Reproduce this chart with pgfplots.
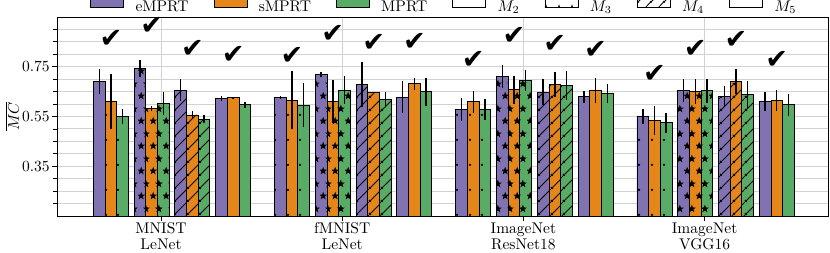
\documentclass[border=0pt]{standalone}
\usepackage{fontspec}
\usepackage{pgfplots}
\pgfplotsset{compat=1.18}
\usetikzlibrary{patterns.meta}
\newfontfamily\checkfont{DejaVu Sans}
\definecolor{cE}{HTML}{8172B2}
\definecolor{cS}{HTML}{E5861B}
\definecolor{cM}{HTML}{59AC65}
\definecolor{gridc}{HTML}{D2D2D2}

% 1 px of the reference = 0.6452pt here (fonts stay at 10pt)
\tikzdeclarepattern{
  name=mpldots,
  type=uncolored,
  bounding box={(0pt,0pt) and (8.065pt,16.13pt)},
  tile size={(8.065pt,16.13pt)},
  code={
    \fill (4.03pt,8.065pt) circle (0.87pt);
  }
}
\tikzdeclarepattern{
  name=mplstars,
  type=uncolored,
  bounding box={(0pt,0pt) and (8.065pt,16.13pt)},
  tile size={(8.065pt,16.13pt)},
  code={
    \fill[shift={(2.13pt,4.03pt)}] (90:2.8pt) -- (126:1.13pt) -- (162:2.8pt) -- (198:1.13pt) -- (234:2.8pt) -- (270:1.13pt) -- (306:2.8pt) -- (342:1.13pt) -- (18:2.8pt) -- (54:1.13pt) -- cycle;
    \fill[shift={(5.94pt,12.1pt)}] (90:2.8pt) -- (126:1.13pt) -- (162:2.8pt) -- (198:1.13pt) -- (234:2.8pt) -- (270:1.13pt) -- (306:2.8pt) -- (342:1.13pt) -- (18:2.8pt) -- (54:1.13pt) -- cycle;
  }
}
\tikzdeclarepattern{
  name=mpllines,
  type=uncolored,
  bounding box={(0pt,0pt) and (8.065pt,8.065pt)},
  tile size={(8.065pt,8.065pt)},
  code={
    \draw[line width=0.52pt] (-0.7pt,-0.7pt) -- (8.765pt,8.765pt);
    \draw[line width=0.52pt] (-0.7pt,7.365pt) -- (0.7pt,8.765pt);
    \draw[line width=0.52pt] (7.365pt,-0.7pt) -- (8.765pt,0.7pt);
  }
}

\pgfplotsset{
  mybar/.style={ybar, bar width=0.0644, bar shift=0pt, draw=black, line width=0.58pt,
    error bars/y dir=both, error bars/y explicit, error bars/error mark=none,
    error bars/error bar style={line width=0.9pt, black}},
  legbox/.style={legend image code/.code={\draw[line width=0.52pt, #1] (0pt,0pt) rectangle (21.3pt,7.55pt);}},
}

\begin{document}
\begin{tikzpicture}
\useasboundingbox (-36.77pt,-23.23pt) rectangle (498.7pt,139.35pt);
\begin{axis}[
  at={(0pt,0pt)}, anchor=south west,
  scale only axis, width=497.4pt, height=128.4pt,
  xmin=-0.574, xmax=3.681, ymin=0.15, ymax=0.95,
  xtick={0,1,2,3},
  xticklabels={{MNIST\\[-1.6pt]LeNet},{fMNIST\\[-1.6pt]LeNet},{ImageNet\\[-1.6pt]ResNet18},{ImageNet\\[-1.6pt]VGG16}},
  xticklabel style={align=center, inner sep=0pt, anchor=north, yshift=-1.0pt},
  ytick={0.35,0.55,0.75},
  minor ytick={0.2,0.25,0.3,0.4,0.45,0.5,0.6,0.65,0.7,0.8,0.85,0.9},
  yticklabel style={inner sep=0pt, anchor=east, xshift=-1.3pt, /pgf/number format/.cd, fixed, fixed zerofill, precision=2},
  ymajorgrids, yminorgrids, xmajorgrids,
  grid style={line width=0.58pt, draw=gridc},
  minor grid style={line width=0.58pt, draw=gridc},
  tick align=outside, xtick pos=bottom, ytick pos=left,
  major tick length=3.2pt, minor tick length=2.3pt,
  every tick/.style={black, line width=0.52pt},
  axis line style={line width=0.52pt},
  ylabel={$\overline{MC}$},
  ylabel style={at={(axis description cs:-0.0584,0.5)}, anchor=center},
  legend columns=7,
  legend style={draw=none, fill=none, at={(axis description cs:0.0428,1)}, anchor=south west, yshift=1.9pt,
    inner sep=0pt,
    nodes={inner sep=0pt},
    /tikz/every odd column/.append style={column sep=7.4pt},
    /tikz/every even column/.append style={column sep=16.1pt}},
  legend cell align=left,
]
% ---- M2 (dots)
\addplot[mybar, fill=cE, postaction={pattern=mpldots}, forget plot] coordinates {
 (-0.3410,0.692) +- (0,0.050) (0.6590,0.626) +- (0,0.005) (1.6590,0.579) +- (0,0.046) (2.6590,0.550) +- (0,0.032)};
\addplot[mybar, fill=cS, postaction={pattern=mpldots}, forget plot] coordinates {
 (-0.2766,0.609) +- (0,0.110) (0.7234,0.615) +- (0,0.117) (1.7234,0.609) +- (0,0.043) (2.7234,0.535) +- (0,0.058)};
\addplot[mybar, fill=cM, postaction={pattern=mpldots}, forget plot] coordinates {
 (-0.2122,0.551) +- (0,0.030) (0.7878,0.595) +- (0,0.088) (1.7878,0.578) +- (0,0.044) (2.7878,0.525) +- (0,0.041)};
% ---- M3 (stars)
\addplot[mybar, fill=cE, postaction={pattern=mplstars}, forget plot] coordinates {
 (-0.1160,0.742) +- (0,0.035) (0.8840,0.719) +- (0,0.011) (1.8840,0.710) +- (0,0.046) (2.8840,0.653) +- (0,0.046)};
\addplot[mybar, fill=cS, postaction={pattern=mplstars}, forget plot] coordinates {
 (-0.0516,0.582) +- (0,0.010) (0.9484,0.610) +- (0,0.085) (1.9484,0.658) +- (0,0.056) (2.9484,0.651) +- (0,0.050)};
\addplot[mybar, fill=cM, postaction={pattern=mplstars}, forget plot] coordinates {
 (0.0128,0.602) +- (0,0.048) (1.0128,0.656) +- (0,0.055) (2.0128,0.695) +- (0,0.041) (3.0128,0.653) +- (0,0.048)};
% ---- M4 (lines)
\addplot[mybar, fill=cE, postaction={pattern=mpllines}, forget plot] coordinates {
 (0.1090,0.656) +- (0,0.044) (1.1090,0.679) +- (0,0.091) (2.1090,0.648) +- (0,0.051) (3.1090,0.632) +- (0,0.040)};
\addplot[mybar, fill=cS, postaction={pattern=mpllines}, forget plot] coordinates {
 (0.1734,0.556) +- (0,0.015) (1.1734,0.645) +- (0,0.004) (2.1734,0.679) +- (0,0.051) (3.1734,0.691) +- (0,0.049)};
\addplot[mybar, fill=cM, postaction={pattern=mpllines}, forget plot] coordinates {
 (0.2378,0.540) +- (0,0.016) (1.2378,0.619) +- (0,0.031) (2.2378,0.673) +- (0,0.058) (3.2378,0.638) +- (0,0.053)};
% ---- M5 (plain)
\addplot[mybar, fill=cE, forget plot] coordinates {
 (0.3340,0.621) +- (0,0.010) (1.3340,0.628) +- (0,0.064) (2.3340,0.629) +- (0,0.023) (3.3340,0.611) +- (0,0.039)};
\addplot[mybar, fill=cS, forget plot] coordinates {
 (0.3984,0.625) +- (0,0.003) (1.3984,0.681) +- (0,0.023) (2.3984,0.653) +- (0,0.050) (3.3984,0.615) +- (0,0.041)};
\addplot[mybar, fill=cM, forget plot] coordinates {
 (0.4628,0.598) +- (0,0.012) (1.4628,0.649) +- (0,0.057) (2.4628,0.641) +- (0,0.038) (3.4628,0.597) +- (0,0.044)};
% ---- check marks
\addplot[only marks, mark=none, forget plot, nodes near coords={✔},
  every node near coord/.append style={anchor=center, inner sep=0pt, font=\checkfont, scale=1.75}]
 coordinates {
 (-0.2766,0.860) (-0.0516,0.914) (0.1734,0.823) (0.3984,0.796)
 (0.7234,0.793) (0.9484,0.880) (1.1734,0.847) (1.3984,0.849)
 (1.7234,0.777) (1.9484,0.873) (2.1734,0.843) (2.3984,0.817)
 (2.7234,0.719) (2.9484,0.820) (3.1734,0.857) (3.3984,0.779)};
% ---- legend
\addlegendimage{legbox={fill=cE}}
\addlegendentry{eMPRT}
\addlegendimage{legbox={fill=cS}}
\addlegendentry{sMPRT}
\addlegendimage{legbox={fill=cM}}
\addlegendentry{MPRT}
\addlegendimage{legbox={fill=white, postaction={pattern=mpldots}}}
\addlegendentry{$M_2$}
\addlegendimage{legbox={fill=white, postaction={pattern=mplstars}}}
\addlegendentry{$M_3$}
\addlegendimage{legbox={fill=white, postaction={pattern=mpllines}}}
\addlegendentry{$M_4$}
\addlegendimage{legbox={fill=white}}
\addlegendentry{$M_5$}
\end{axis}
\end{tikzpicture}
\end{document}
